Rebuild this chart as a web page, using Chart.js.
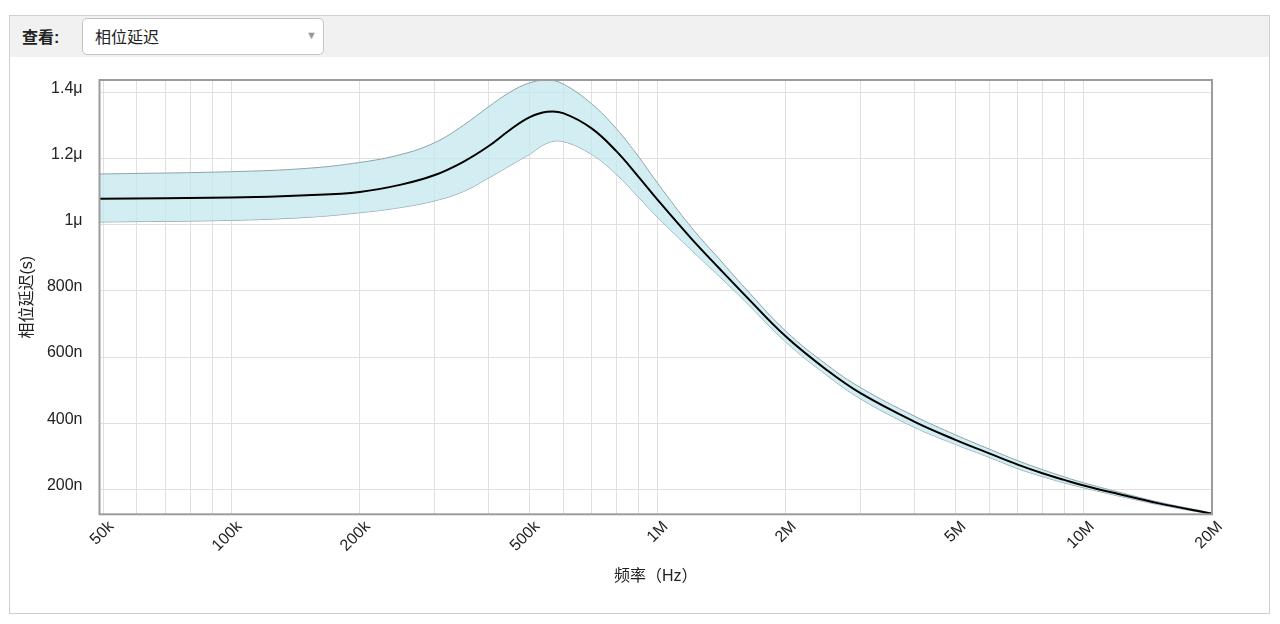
<!DOCTYPE html>
<html>
<head>
<meta charset="utf-8">
<script src="https://cdn.jsdelivr.net/npm/chart.js@4"></script>
<style>
  html, body { margin:0; padding:0; background:#fff; width:1280px; height:624px; overflow:hidden;
    font-family:"Liberation Sans","Noto Sans CJK SC",Arial,sans-serif; }
  #panel { position:absolute; left:9px; top:15px; width:1259px; height:597px; border:1px solid #cfcfcf; box-sizing:content-box; }
  #hdr { position:absolute; left:0; top:0; width:1259px; height:41px; background:#f1f1f1; }
  #lbl { position:absolute; left:12px; top:8px; font-size:16px; font-weight:bold; color:#222; }
  #sel { position:absolute; left:72px; top:2px; width:242px; height:37px; border:1px solid #c4c4c4; border-radius:5px; background:#fff; box-sizing:border-box; }
  #sel span { position:absolute; left:12px; top:5px; font-size:16px; color:#222; }
  #sel i { position:absolute; right:6px; top:10px; font-style:normal; font-size:11px; color:#999; }
  #wrap { position:absolute; left:10px; top:57px; width:1258px; height:555px; }
</style>
</head>
<body>
<div id="panel">
  <div id="hdr">
    <div id="lbl">查看:</div>
    <div id="sel"><span>相位延迟</span><i>▼</i></div>
  </div>
</div>
<div id="wrap"><canvas id="c" width="1258" height="555"></canvas></div>
<script>
// Frequencies (Hz)
const freqs = [49000, 100000, 150000, 200000, 250000, 300000, 350000, 400000, 450000, 500000, 550000, 600000, 700000, 800000, 900000,
  1000000, 1200000, 1400000, 1600000, 2000000, 2500000, 3000000, 4000000, 5000000, 6000000, 7000000, 8000000, 9000000, 10000000,
  12000000, 15000000, 20000000];
// Phase delay in microseconds
const meanDelay = [1.078, 1.082, 1.089, 1.099, 1.121, 1.150, 1.190, 1.236, 1.286, 1.324, 1.341, 1.337, 1.291, 1.222, 1.146,
  1.075, 0.958, 0.866, 0.788, 0.662, 0.560, 0.490, 0.405, 0.350, 0.309, 0.275, 0.249, 0.229, 0.212,
  0.187, 0.158, 0.127];
const upperDelay = [1.153, 1.160, 1.170, 1.188, 1.212, 1.248, 1.300, 1.355, 1.400, 1.428, 1.437, 1.425, 1.365, 1.290, 1.207,
  1.125, 0.992, 0.894, 0.810, 0.678, 0.576, 0.507, 0.422, 0.365, 0.322, 0.287, 0.260, 0.238, 0.220,
  0.193, 0.162, 0.129];
const lowerDelay = [1.008, 1.013, 1.022, 1.036, 1.052, 1.072, 1.100, 1.140, 1.178, 1.212, 1.246, 1.251, 1.212, 1.152, 1.084,
  1.022, 0.923, 0.842, 0.770, 0.645, 0.544, 0.473, 0.388, 0.336, 0.297, 0.263, 0.239, 0.220, 0.205,
  0.181, 0.154, 0.125];

const xGridValues = [50000,60000,70000,80000,90000,100000,200000,300000,400000,500000,600000,700000,800000,900000,
  1000000,2000000,3000000,4000000,5000000,6000000,7000000,8000000,9000000,10000000,20000000];
const xTickValues = [50000, 100000, 200000, 500000, 1000000, 2000000, 5000000, 10000000, 20000000];
const xTickLabels = ['50k', '100k', '200k', '500k', '1M', '2M', '5M', '10M', '20M'];
const yTickValues = [0.2, 0.4, 0.6, 0.8, 1.0, 1.2, 1.4];
const yTickLabels = ['200n', '400n', '600n', '800n', '1μ', '1.2μ', '1.4μ'];

const pts = arr => freqs.map((f, i) => ({x: f, y: arr[i]}));
const FONT = '"Liberation Sans","Noto Sans CJK SC",Arial,sans-serif';

const borderPlugin = {
  id: 'plotBorder',
  afterDraw(chart) {
    const {ctx, chartArea: a} = chart;
    ctx.save();
    ctx.strokeStyle = '#9c9c9c';
    ctx.lineWidth = 2;
    ctx.strokeRect(a.left, a.top, a.right - a.left, a.bottom - a.top);
    ctx.restore();
  }
};

new Chart(document.getElementById('c'), {
  type: 'line',
  data: {
    datasets: [
      { label: 'mean', data: pts(meanDelay), borderColor: '#000', borderWidth: 2, pointRadius: 0, fill: false, tension: 0.4 },
      { label: 'upper', data: pts(upperDelay), borderColor: '#8fa3a8', borderWidth: 1, pointRadius: 0, fill: '+1',
        backgroundColor: 'rgba(196,232,238,0.75)', tension: 0.4 },
      { label: 'lower', data: pts(lowerDelay), borderColor: '#8fa3a8', borderWidth: 1, pointRadius: 0, fill: false, tension: 0.4 }
    ]
  },
  options: {
    responsive: false,
    animation: false,
    events: [],
    layout: { padding: { top: 23, right: 56, left: 0, bottom: 0 } },
    plugins: { legend: { display: false }, tooltip: { enabled: false } },
    scales: {
      x: {
        type: 'logarithmic', min: 49000, max: 20000000,
        afterBuildTicks: s => { s.ticks = xGridValues.map(v => ({value: v})); },
        afterFit: s => { s.height = 97.7; },
        grid: { color: '#e0e0e0', lineWidth: 1, drawTicks: false },
        border: { display: false },
        ticks: {
          autoSkip: false, minRotation: 45, maxRotation: 45, padding: 3, labelOffset: 8, color: '#222',
          font: { family: FONT, size: 16 },
          callback: v => { const i = xTickValues.indexOf(v); return i >= 0 ? xTickLabels[i] : ''; }
        },
        title: { display: true, text: '频率（Hz）', color: '#222', font: { family: FONT, size: 16 }, padding: { top: 0, bottom: 26 } }
      },
      y: {
        type: 'linear', min: 0.125, max: 1.437,
        afterBuildTicks: s => { s.ticks = yTickValues.map(v => ({value: v})); },
        afterFit: s => { s.width = 89.5; s.paddingTop = 0; s.paddingBottom = 0; },
        grid: { color: '#e0e0e0', lineWidth: 1, drawTicks: false },
        border: { display: false },
        ticks: {
          padding: 17, color: '#222', labelOffset: -4,
          font: { family: FONT, size: 16 },
          callback: v => { const i = yTickValues.findIndex(t => Math.abs(t - v) < 1e-9); return i >= 0 ? yTickLabels[i] : ''; }
        },
        title: { display: true, text: '相位延迟(s)', color: '#222', font: { family: FONT, size: 16 }, padding: { top: 8, bottom: 0 } }
      }
    }
  },
  plugins: [borderPlugin]
});
</script>
</body>
</html>
